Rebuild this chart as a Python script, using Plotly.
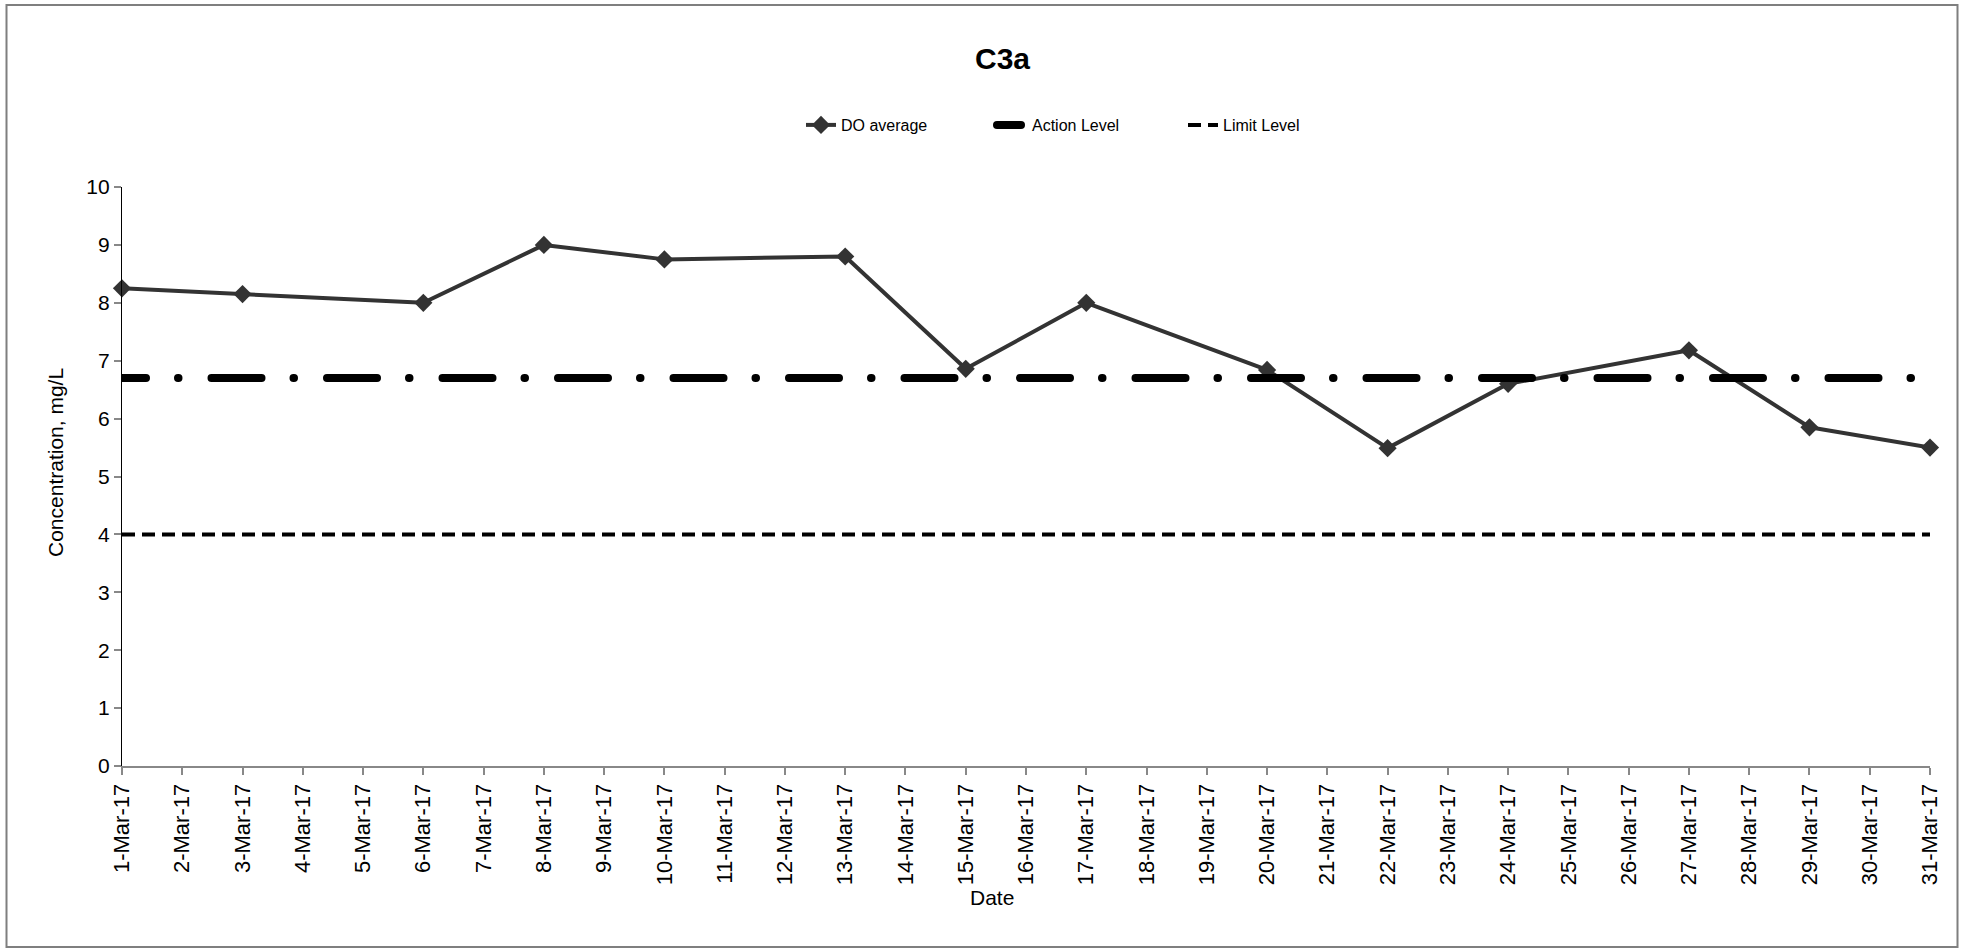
import plotly.graph_objects as go

# ---- data ----
dates = ['2017-03-01', '2017-03-03', '2017-03-06', '2017-03-08', '2017-03-10',
         '2017-03-13', '2017-03-15', '2017-03-17', '2017-03-20', '2017-03-22',
         '2017-03-24', '2017-03-27', '2017-03-29', '2017-03-31']
do_average = [8.25, 8.15, 8.0, 9.0, 8.75, 8.8, 6.86, 8.0, 6.84, 5.49, 6.6, 7.18, 5.85, 5.5]
period = ['2017-03-01', '2017-03-31']
action_level = [6.7, 6.7]
limit_level = [4.0, 4.0]
y_ticks = [0, 1, 2, 3, 4, 5, 6, 7, 8, 9, 10]

FONT = "Liberation Sans, Arial, sans-serif"
W, H = 1971, 950
# plot area in page pixels: x 122..1930, y 187..766
L, R, T, B = 122, W - 1930, 187, H - 766

fig = go.Figure()
fig.add_trace(go.Scatter(
    x=dates, y=do_average, name="DO average", mode="lines+markers",
    line=dict(color="#333333", width=4),
    marker=dict(symbol="diamond", size=14, color="#333333"),
    cliponaxis=False,
))
fig.add_trace(go.Scatter(
    x=period, y=action_level, name="Action Level", mode="lines",
    line=dict(color="#000000", width=8, dash="24px,32px,0.5px,33px,26px,0px"),
    cliponaxis=False,
))
fig.add_trace(go.Scatter(
    x=period, y=limit_level, name="Limit Level", mode="lines",
    line=dict(color="#000000", width=4, dash="13px,7px"),
    cliponaxis=False,
))

pw = W - L - R
ph = H - T - B

def px_x(v):
    return (v - L) / pw

def px_y(v):
    return (H - B - v) / ph

fig.update_layout(
    width=W, height=H,
    margin=dict(l=L, r=R, t=T, b=B),
    paper_bgcolor="white", plot_bgcolor="white",
    font=dict(family=FONT, color="#000000"),
    showlegend=True,
    legend=dict(
        orientation="h", xref="container", yref="container",
        x=801 / W, xanchor="left", y=1 - 125 / H, yanchor="middle",
        font=dict(size=16, family=FONT, color="#000000"),
        bgcolor="rgba(0,0,0,0)", entrywidth=146, entrywidthmode="pixels",
        tracegroupgap=0,
    ),
    xaxis=dict(
        type="date", range=period, dtick=86400000, tick0=period[0],
        tickformat="%-d-%b-%y", tickangle=-90,
        tickfont=dict(size=22, family=FONT, color="#000000"),
        showgrid=False, zeroline=False,
        showline=True, linecolor="#888888", linewidth=2,
        ticks="outside", ticklen=7, tickcolor="#888888", tickwidth=1.5,
    ),
    yaxis=dict(
        range=[0, 10], tickvals=y_ticks, ticktext=[str(v) for v in y_ticks],
        tickfont=dict(size=21, family=FONT, color="#000000"),
        showgrid=False, zeroline=False,
        showline=True, linecolor="#000000", linewidth=1.2,
        ticks="outside", ticklen=7, tickcolor="#888888", tickwidth=1.5,
    ),
    annotations=[
        dict(text="<b>C3a</b>", xref="paper", yref="paper",
             x=px_x(1002), y=px_y(58), showarrow=False,
             font=dict(size=30, family=FONT, color="#000000"),
             xanchor="center", yanchor="middle"),
        dict(text="Date", xref="paper", yref="paper",
             x=px_x(992), y=px_y(897), showarrow=False,
             font=dict(size=21, family=FONT, color="#000000"),
             xanchor="center", yanchor="middle"),
        dict(text="Concentration, mg/L", xref="paper", yref="paper",
             x=px_x(55), y=px_y(463), showarrow=False, textangle=-90,
             font=dict(size=21, family=FONT, color="#000000"),
             xanchor="center", yanchor="middle"),
    ],
    shapes=[
        dict(type="rect", xref="paper", yref="paper",
             x0=px_x(6.5), x1=px_x(1957.5), y0=px_y(947), y1=px_y(5),
             line=dict(color="#7f7f7f", width=2), fillcolor="rgba(0,0,0,0)",
             layer="below"),
    ],
)

post = """
document.body.style.margin = '0px';
document.body.style.overflow = 'hidden';
var gd = document.getElementById('{plot_id}');
var tr = gd.querySelectorAll('.scatterlayer .trace');
if (tr.length > 1) {
  tr[1].querySelectorAll('path.js-line').forEach(function(p) {
    p.style.strokeLinecap = 'round';
  });
}
tr.forEach(function(t) {
  t.querySelectorAll('path.js-line').forEach(function(p) {
    p.style.strokeLinejoin = 'round';
  });
});
var lg = gd.querySelectorAll('.legend .traces');
if (lg.length > 1) {
  lg[1].querySelectorAll('path.js-line').forEach(function(p) {
    p.style.strokeLinecap = 'round';
  });
}
"""

fig.write_html("out.html", post_script=post, config={"displayModeBar": False})
